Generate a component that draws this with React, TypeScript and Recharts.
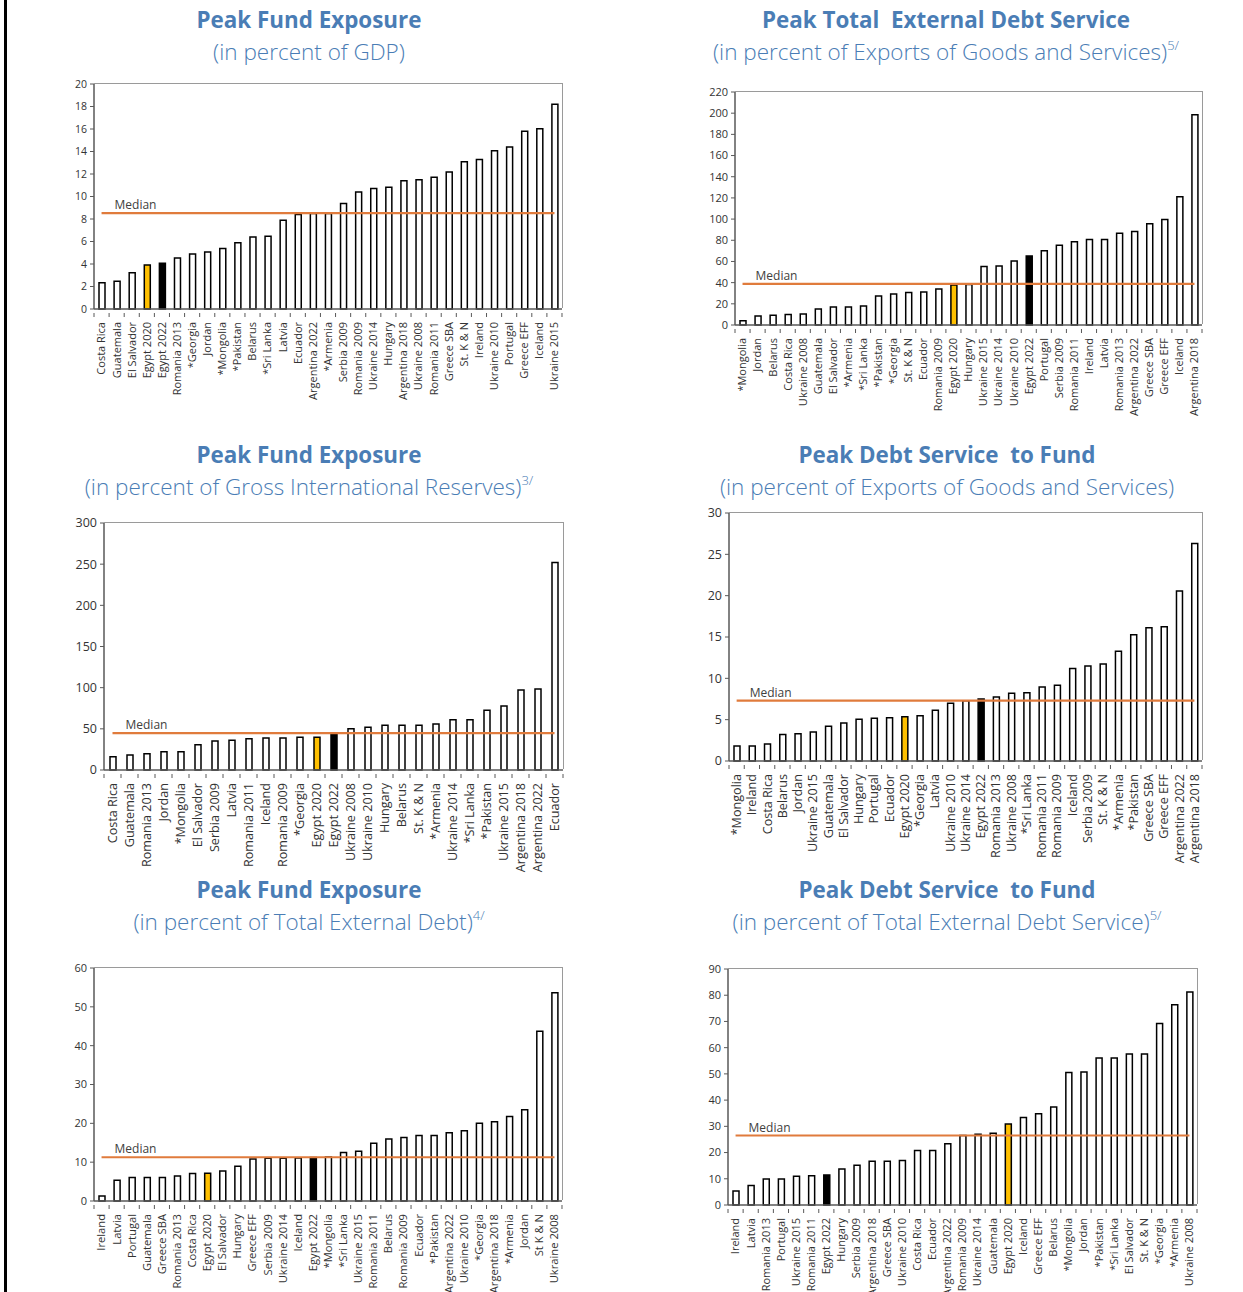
import React from 'react';
import { BarChart, Bar, XAxis, YAxis, Cell, ReferenceLine } from 'recharts';

const FONT = "'Open Sans', 'Noto Sans', sans-serif";
const TITLE_COLOR = '#4a7db5';
const MEDIAN_COLOR = '#e07b3c';
const AXIS_COLOR = '#595959';
const FRAME_COLOR = '#9a9a9a';

// Panel 1: Peak Fund Exposure (percent of GDP)
const gdpNames = [
  'Costa Rica', 'Guatemala', 'El Salvador', 'Egypt 2020', 'Egypt 2022', 'Romania 2013', '*Georgia', 'Jordan',
  '*Mongolia', '*Pakistan', 'Belarus', '*Sri Lanka', 'Latvia', 'Ecuador', 'Argentina 2022', '*Armenia',
  'Serbia 2009', 'Romania 2009', 'Ukraine 2014', 'Hungary', 'Argentina 2018', 'Ukraine 2008', 'Romania 2011',
  'Greece SBA', 'St. K & N', 'Ireland', 'Ukraine 2010', 'Portugal', 'Greece EFF', 'Iceland', 'Ukraine 2015',
];
const gdpValues = [
  2.34, 2.46, 3.23, 3.92, 4.07, 4.54, 4.9, 5.07, 5.37, 5.88, 6.41, 6.47, 7.9, 8.4, 8.5, 8.5,
  9.38, 10.39, 10.71, 10.83, 11.39, 11.48, 11.72, 12.17, 13.1, 13.3, 14.07, 14.39, 15.79, 16.02, 18.19,
];
const gdpMedian = 8.52;
const gdpTicks = [0, 2, 4, 6, 8, 10, 12, 14, 16, 18, 20];

// Panel 2: Peak Total External Debt Service (percent of exports)
const tedsNames = [
  '*Mongolia', 'Jordan', 'Belarus', 'Costa Rica', 'Ukraine 2008', 'Guatemala', 'El Salvador', '*Armenia',
  '*Sri Lanka', '*Pakistan', '*Georgia', 'St. K & N', 'Ecuador', 'Romania 2009', 'Egypt 2020', 'Hungary',
  'Ukraine 2015', 'Ukraine 2014', 'Ukraine 2010', 'Egypt 2022', 'Portugal', 'Serbia 2009', 'Romania 2011',
  'Ireland', 'Latvia', 'Romania 2013', 'Argentina 2022', 'Greece SBA', 'Greece EFF', 'Iceland', 'Argentina 2018',
];
const tedsValues = [
  4.1, 8.5, 9.1, 9.8, 10.4, 15.1, 17, 17, 18, 27.4, 29.3, 30.6, 31.2, 34, 37.8, 38.3,
  55.2, 55.8, 60.5, 65.2, 70, 75.3, 78.5, 80.7, 80.7, 86.7, 88.2, 95.5, 99.6, 121, 198.6,
];
const tedsMedian = 38.8;
const tedsTicks = [0, 20, 40, 60, 80, 100, 120, 140, 160, 180, 200, 220];

// Panel 3: Peak Fund Exposure (percent of gross international reserves)
const girNames = [
  'Costa Rica', 'Guatemala', 'Romania 2013', 'Jordan', '*Mongolia', 'El Salvador', 'Serbia 2009', 'Latvia',
  'Romania 2011', 'Iceland', 'Romania 2009', '*Georgia', 'Egypt 2020', 'Egypt 2022', 'Ukraine 2008',
  'Ukraine 2010', 'Hungary', 'Belarus', 'St. K & N', '*Armenia', 'Ukraine 2014', '*Sri Lanka', '*Pakistan',
  'Ukraine 2015', 'Argentina 2018', 'Argentina 2022', 'Ecuador',
];
const girValues = [
  16.2, 18.2, 19.8, 22.3, 22.3, 30.8, 35.2, 36, 38, 38.9, 38.9, 39.7, 39.7, 44.3, 50.2,
  51.8, 54.3, 54.3, 54.3, 55.9, 61.1, 61.1, 72.5, 77.7, 97.2, 98.4, 252,
];
const girMedian = 44.9;
const girTicks = [0, 50, 100, 150, 200, 250, 300];

// Panel 4: Peak Debt Service to Fund (percent of exports)
const dsxNames = [
  '*Mongolia', 'Ireland', 'Costa Rica', 'Belarus', 'Jordan', 'Ukraine 2015', 'Guatemala', 'El Salvador',
  'Hungary', 'Portugal', 'Ecuador', 'Egypt 2020', '*Georgia', 'Latvia', 'Ukraine 2010', 'Ukraine 2014',
  'Egypt 2022', 'Romania 2013', 'Ukraine 2008', '*Sri Lanka', 'Romania 2011', 'Romania 2009', 'Iceland',
  'Serbia 2009', 'St. K & N', '*Armenia', '*Pakistan', 'Greece SBA', 'Greece EFF', 'Argentina 2022', 'Argentina 2018',
];
const dsxValues = [
  1.8, 1.8, 2.06, 3.2, 3.3, 3.5, 4.2, 4.6, 5.04, 5.16, 5.24, 5.36, 5.48, 6.13, 6.98, 7.3,
  7.5, 7.74, 8.19, 8.27, 8.95, 9.15, 11.2, 11.5, 11.73, 13.27, 15.28, 16.13, 16.25, 20.56, 26.3,
];
const dsxMedian = 7.3;
const dsxTicks = [0, 5, 10, 15, 20, 25, 30];

// Panel 5: Peak Fund Exposure (percent of total external debt)
const tedNames = [
  'Ireland', 'Latvia', 'Portugal', 'Guatemala', 'Greece SBA', 'Romania 2013', 'Costa Rica', 'Egypt 2020',
  'El Salvador', 'Hungary', 'Greece EFF', 'Serbia 2009', 'Ukraine 2014', 'Iceland', 'Egypt 2022', '*Mongolia',
  '*Sri Lanka', 'Ukraine 2015', 'Romania 2011', 'Belarus', 'Romania 2009', 'Ecuador', '*Pakistan',
  'Argentina 2022', 'Ukraine 2010', '*Georgia', 'Argentina 2018', '*Armenia', 'Jordan', 'St K & N', 'Ukraine 2008',
];
const tedValues = [
  1.29, 5.33, 6.02, 6.02, 6.02, 6.45, 7.05, 7.14, 7.74, 8.94, 10.83, 11.0, 11.0, 11.1, 11.2, 11.3,
  12.47, 12.8, 14.87, 15.99, 16.34, 16.85, 16.85, 17.6, 18.1, 20.0, 20.4, 21.75, 23.5, 43.7, 53.65,
];
const tedMedian = 11.26;
const tedTicks = [0, 10, 20, 30, 40, 50, 60];

// Panel 6: Peak Debt Service to Fund (percent of total external debt service)
const dstNames = [
  'Ireland', 'Latvia', 'Romania 2013', 'Portugal', 'Ukraine 2015', 'Romania 2011', 'Egypt 2022', 'Hungary',
  'Serbia 2009', 'Argentina 2018', 'Greece SBA', 'Ukraine 2010', 'Costa Rica', 'Ecuador', 'Argentina 2022',
  'Romania 2009', 'Ukraine 2014', 'Guatemala', 'Egypt 2020', 'Iceland', 'Greece EFF', 'Belarus', '*Mongolia',
  'Jordan', '*Pakistan', '*Sri Lanka', 'El Salvador', 'St. K & N', '*Georgia', '*Armenia', 'Ukraine 2008',
];
const dstValues = [
  5.35, 7.4, 9.94, 9.94, 10.96, 11.2, 11.47, 13.77, 15.17, 16.7, 16.7, 16.96, 20.78, 20.78, 23.33,
  26.5, 27.0, 27.4, 30.85, 33.4, 34.8, 37.35, 50.5, 50.74, 56.1, 56.1, 57.6, 57.6, 69.2, 76.4, 81.2,
];
const dstMedian = 26.5;
const dstTicks = [0, 10, 20, 30, 40, 50, 60, 70, 80, 90];

const Y_AXIS_W = 45;
const X_AXIS_H = 120;
const M_TOP = 10;
const M_RIGHT = 10;

function barFill(name: string) {
  if (name === 'Egypt 2020') return '#ffc000';
  if (name === 'Egypt 2022') return '#000000';
  return '#ffffff';
}

interface PanelProps {
  names: string[];
  values: number[];
  median: number;
  ticks: number[];
  plot: { x: number; y: number; w: number; h: number };
  xFont: number;
  yFont: number;
}

function Panel({ names, values, median, ticks, plot, xFont, yFont }: PanelProps) {
  const data = names.map((name, i) => ({ name, value: values[i] }));
  const band = plot.w / names.length;

  const XTick = (props: any) => {
    const { x, y, payload, index } = props;
    return (
      <g transform={`translate(${x},${y})`}>
        <line x1={band / 2} x2={band / 2} y1={-4} y2={0} stroke={AXIS_COLOR} />
        {index === 0 && <line x1={-band / 2} x2={-band / 2} y1={-4} y2={0} stroke={AXIS_COLOR} />}
        <text
          transform="rotate(-90)"
          x={-5}
          y={0}
          dy="0.35em"
          textAnchor="end"
          fontSize={xFont}
          fill="#333"
          fontFamily={FONT}
        >
          {payload.value}
        </text>
      </g>
    );
  };

  const MedianLabel = (props: any) => {
    const vb = props.viewBox;
    return (
      <text x={vb.x + 13} y={vb.y - 4} fontSize={12} fill="#404040" fontFamily={FONT}>
        Median
      </text>
    );
  };

  return (
    <>
      <div
        style={{
          position: 'absolute',
          left: plot.x - Y_AXIS_W,
          top: plot.y - M_TOP,
        }}
      >
        <BarChart
          width={Y_AXIS_W + plot.w + M_RIGHT}
          height={M_TOP + plot.h + X_AXIS_H}
          data={data}
          margin={{ top: M_TOP, right: M_RIGHT, left: 0, bottom: 0 }}
        >
          <XAxis
            dataKey="name"
            interval={0}
            height={X_AXIS_H}
            tickLine={false}
            axisLine={{ stroke: AXIS_COLOR, strokeWidth: 1.5 }}
            tick={<XTick />}
          />
          <YAxis
            width={Y_AXIS_W}
            domain={[ticks[0], ticks[ticks.length - 1]]}
            ticks={ticks}
            interval={0}
            tickSize={4}
            tickMargin={3}
            tickLine={{ stroke: AXIS_COLOR }}
            axisLine={{ stroke: AXIS_COLOR, strokeWidth: 1.5 }}
            tick={{ fontSize: yFont, fill: '#333', fontFamily: FONT }}
          />
          <Bar dataKey="value" barSize={6} stroke="#000" strokeWidth={1.5} isAnimationActive={false}>
            {data.map((d) => (
              <Cell key={d.name} fill={barFill(d.name)} />
            ))}
          </Bar>
          <ReferenceLine
            segment={[
              { x: names[0], y: median },
              { x: names[names.length - 1], y: median },
            ]}
            stroke={MEDIAN_COLOR}
            strokeWidth={2.2}
            label={<MedianLabel />}
          />
        </BarChart>
      </div>
      {/* plot-area frame: gray top and right edges */}
      <div
        style={{
          position: 'absolute',
          left: plot.x,
          top: plot.y - 1,
          width: plot.w + 1,
          height: plot.h,
          borderTop: `1.5px solid ${FRAME_COLOR}`,
          borderRight: `1.5px solid ${FRAME_COLOR}`,
          boxSizing: 'border-box',
          pointerEvents: 'none',
        }}
      />
    </>
  );
}

function Title({ cx, top, title, subtitle, sup }: { cx: number; top: number; title: string; subtitle: string; sup?: string }) {
  return (
    <div
      style={{
        position: 'absolute',
        left: cx - 320,
        top,
        width: 640,
        textAlign: 'center',
        color: TITLE_COLOR,
        fontFamily: FONT,
      }}
    >
      <div style={{ fontSize: 22.4, fontWeight: 700, lineHeight: '30px', whiteSpace: 'pre' }}>{title}</div>
      <div style={{ fontSize: 22.5, fontWeight: 300, lineHeight: '34px', whiteSpace: 'nowrap' }}>
        {subtitle}
        {sup && <span style={{ fontSize: 13, position: 'relative', top: -10 }}>{sup}</span>}
      </div>
    </div>
  );
}

export default function App() {
  return (
    <div
      style={{
        position: 'absolute',
        left: 0,
        top: 0,
        width: 1243,
        height: 1292,
        overflow: 'hidden',
        background: '#fff',
      }}
    >
      <div style={{ position: 'absolute', left: 4, top: 0, width: 3, height: 1292, background: '#000' }} />

      <Title cx={309} top={5} title="Peak Fund Exposure" subtitle="(in percent of GDP)" />
      <Title cx={946} top={5} title="Peak Total  External Debt Service" subtitle="(in percent of Exports of Goods and Services)" sup="5/" />
      <Title cx={309} top={440} title="Peak Fund Exposure" subtitle="(in percent of Gross International Reserves)" sup="3/" />
      <Title cx={947} top={440} title="Peak Debt Service  to Fund" subtitle="(in percent of Exports of Goods and Services)" />
      <Title cx={309} top={875} title="Peak Fund Exposure" subtitle="(in percent of Total External Debt)" sup="4/" />
      <Title cx={947} top={875} title="Peak Debt Service  to Fund" subtitle="(in percent of Total External Debt Service)" sup="5/" />

      <Panel names={gdpNames} values={gdpValues} median={gdpMedian} ticks={gdpTicks}
        plot={{ x: 94, y: 84, w: 468, h: 225 }} xFont={11} yFont={10.5} />
      <Panel names={tedsNames} values={tedsValues} median={tedsMedian} ticks={tedsTicks}
        plot={{ x: 735, y: 92, w: 467, h: 233 }} xFont={11} yFont={11} />
      <Panel names={girNames} values={girValues} median={girMedian} ticks={girTicks}
        plot={{ x: 104, y: 523, w: 459, h: 247 }} xFont={12.6} yFont={12.5} />
      <Panel names={dsxNames} values={dsxValues} median={dsxMedian} ticks={dsxTicks}
        plot={{ x: 729, y: 513, w: 473, h: 248 }} xFont={12.6} yFont={12.5} />
      <Panel names={tedNames} values={tedValues} median={tedMedian} ticks={tedTicks}
        plot={{ x: 94, y: 968, w: 468, h: 233 }} xFont={11.2} yFont={11} />
      <Panel names={dstNames} values={dstValues} median={dstMedian} ticks={dstTicks}
        plot={{ x: 728, y: 969, w: 469, h: 236 }} xFont={11} yFont={11} />
    </div>
  );
}
